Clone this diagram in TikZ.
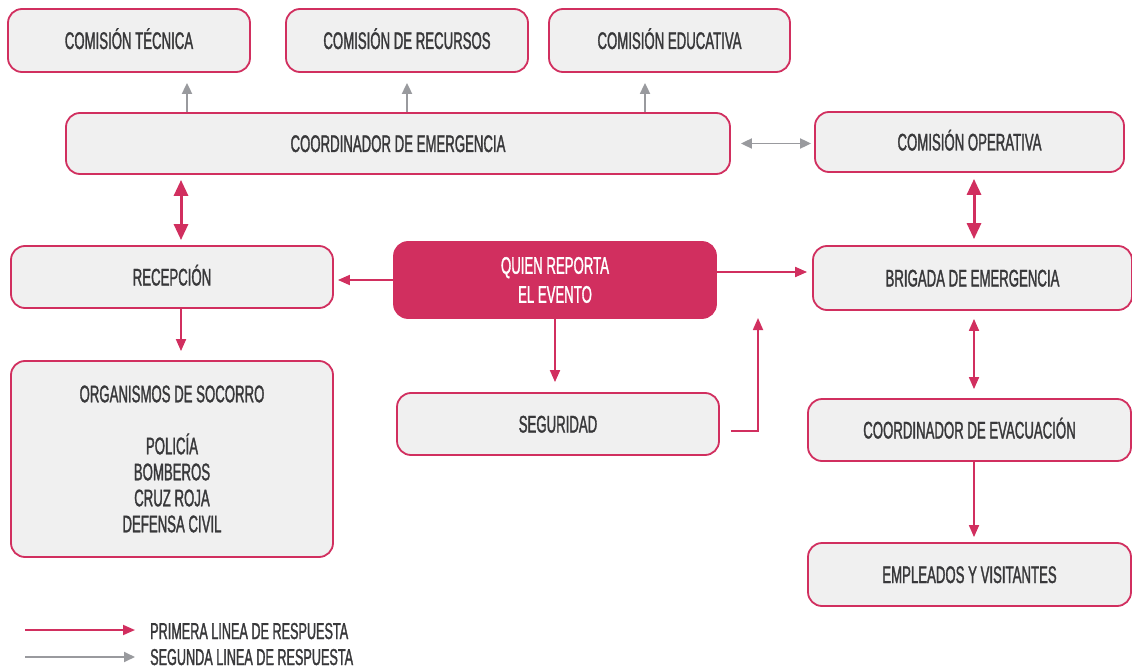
\documentclass[tikz,border=0pt]{standalone}
\usepackage{fontspec}
\setmainfont{Liberation Sans}[FakeStretch=0.55,FakeBold=1.3]
\usetikzlibrary{arrows.meta}
\definecolor{rojo}{HTML}{D12F5F}
\definecolor{cajagris}{HTML}{F0F0F0}
\definecolor{texto}{HTML}{38383A}
\definecolor{flecha}{HTML}{999A9E}
\begin{document}
\begin{tikzpicture}[x=1pt,y=-1pt,
  box/.style={draw=rojo, line width=1.8pt, fill=cajagris, rounded corners=14pt,
    inner sep=0pt, text=texto, font=\fontsize{24}{26}\selectfont, align=center,
    text height=17pt, text depth=0pt},
  multi/.style={text height={}, text depth={}},
  hot/.style={box, multi, fill=rojo, text=white, font=\fontsize{24}{29}\selectfont},
  ra/.style={draw=rojo, line width=1.8pt, -{Triangle[length=12pt,width=10pt]}},
  rab/.style={draw=rojo, line width=3pt, {Triangle[length=16pt,width=14pt]}-{Triangle[length=16pt,width=14pt]}},
  rad/.style={draw=rojo, line width=1.8pt, {Triangle[length=12pt,width=10pt]}-{Triangle[length=12pt,width=10pt]}},
  ga/.style={draw=flecha, line width=1.8pt, -{Triangle[length=11pt,width=10pt]}},
  gad/.style={draw=flecha, line width=1.8pt, {Triangle[length=11pt,width=10pt]}-{Triangle[length=11pt,width=10pt]}},
  lbl/.style={anchor=west, inner sep=0pt, text=texto, font=\fontsize{23}{26}\selectfont,
    text height=16pt, text depth=0pt}]
\useasboundingbox (0,0) rectangle (1132,671);

% boxes
\node[box, minimum width=242, minimum height=63] (tec) at (129,40.5) {COMISIÓN TÉCNICA};
\node[box, minimum width=242, minimum height=63] (recur) at (407,40.5) {COMISIÓN DE RECURSOS};
\node[box, minimum width=241, minimum height=63] (edu) at (669.5,40.5) {COMISIÓN EDUCATIVA};
\node[box, minimum width=664, minimum height=61] (coord) at (398,143.5) {COORDINADOR DE EMERGENCIA};
\node[box, minimum width=309, minimum height=60] (oper) at (969.5,142) {COMISIÓN OPERATIVA};
\node[box, minimum width=322, minimum height=62] (recep) at (172,277) {RECEPCIÓN};
\node[hot, minimum width=322, minimum height=76] (quien) at (555,280) {QUIEN REPORTA\\EL EVENTO};
\node[box, minimum width=319, minimum height=64] (brig) at (972.5,278) {BRIGADA DE EMERGENCIA};
\node[box, multi, minimum width=322, minimum height=196] (org) at (172,459) {ORGANISMOS DE SOCORRO\\[26pt]POLICÍA\\BOMBEROS\\CRUZ ROJA\\DEFENSA CIVIL};
\node[box, minimum width=322, minimum height=62] (seg) at (558,424) {SEGURIDAD};
\node[box, minimum width=323, minimum height=62] (evac) at (969.5,430) {COORDINADOR DE EVACUACIÓN};
\node[box, minimum width=323, minimum height=63] (emp) at (969.5,574.5) {EMPLEADOS Y VISITANTES};

% helper coordinates
\coordinate (xtec) at (187,0);
\coordinate (xrec) at (407,0);
\coordinate (xedu) at (645,0);
\coordinate (xL) at (181,0);
\coordinate (xR) at (974,0);
\coordinate (sq) at (758,318);

% gray connectors
\draw[ga, shorten >=10pt] (coord.north -| xtec) -- (tec.south -| xtec);
\draw[ga, shorten >=10pt] (coord.north -| xrec) -- (recur.south -| xrec);
\draw[ga, shorten >=10pt] (coord.north -| xedu) -- (edu.south -| xedu);
\draw[gad, shorten <=10pt, shorten >=3pt] (coord.east) -- (coord.east -| oper.west);

% red connectors
\draw[rab, shorten <=5pt, shorten >=5pt] (coord.south -| xL) -- (recep.north -| xL);
\draw[rab, shorten <=6pt, shorten >=6pt] (oper.south -| xR) -- (brig.north -| xR);
\draw[rad, shorten <=8pt, shorten >=9pt] (brig.south -| xR) -- (evac.north -| xR);
\draw[ra, shorten >=5pt] (evac.south -| xR) -- (emp.north -| xR);
\draw[ra, shorten >=4pt] (quien.west) -- (quien.west -| recep.east);
\draw[ra, shorten >=5pt] ([yshift=8pt]quien.east) -- ([yshift=8pt]quien.east -| brig.west);
\draw[ra, shorten >=9pt] (recep.south -| xL) -- (org.north -| xL);
\draw[ra, shorten >=10pt] (quien.south) -- (quien.south |- seg.north);
\draw[ra] ([xshift=11pt,yshift=-7pt]seg.east) -| (sq);

% legend
\node[lbl] (l1) at (150,631) {PRIMERA LINEA DE RESPUESTA};
\node[lbl] (l2) at (150,657) {SEGUNDA LINEA DE RESPUESTA};
\coordinate (l1s) at (25,630);
\coordinate (l2s) at (25,657);
\draw[ra, shorten >=15pt] (l1s) -- (l1.west |- l1s);
\draw[ga, shorten >=15pt] (l2s) -- (l2.west |- l2s);
\end{tikzpicture}
\end{document}
